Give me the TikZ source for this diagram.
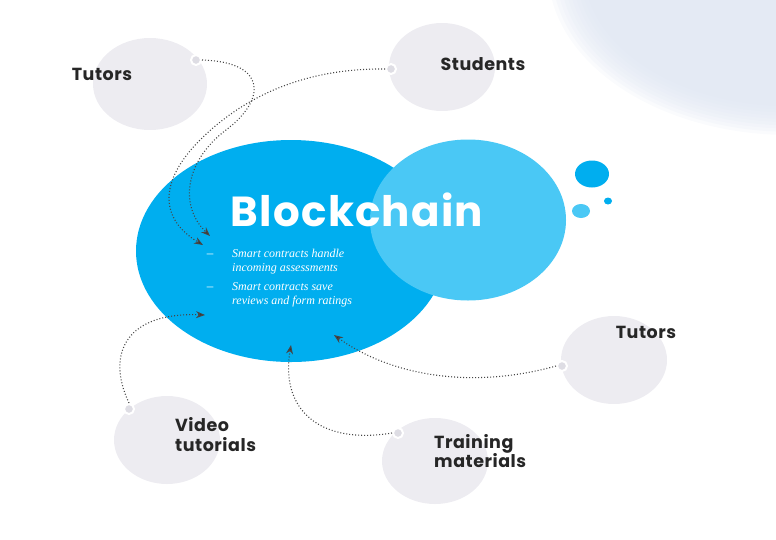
\documentclass[tikz,border=0pt]{standalone}
\usepackage{fontspec}
\setmainfont{Liberation Serif}
\newfontfamily\hdfont{Poppins}[LetterSpace=3]
\usetikzlibrary{arrows.meta,shapes.geometric}
\definecolor{bcblue}{RGB}{0,174,239}
\definecolor{bclight}{RGB}{74,200,245}
\definecolor{bubblegray}{RGB}{237,236,241}
\definecolor{portgray}{RGB}{222,221,228}
\definecolor{blobcol}{RGB}{222,229,242}
\definecolor{lineg}{RGB}{70,70,70}
\begin{document}
\begin{tikzpicture}[x=1pt,y=-1pt,
  bubble/.style={ellipse,fill=bubblegray,inner sep=0pt},
  port/.style={circle,fill=portgray,draw=white,line width=2pt,minimum size=10pt,inner sep=0pt},
  lbl/.style={font=\hdfont\bfseries\fontsize{17.5}{19.5}\selectfont,text=black!85,align=left,inner sep=0pt},
  bullet/.style={font=\itshape\fontsize{12}{14}\selectfont,text=white,align=left,inner sep=0pt,anchor=north west},
  conn/.style={draw=lineg,line width=1.1pt,dash pattern=on 1pt off 2pt,-{Stealth[length=9pt,width=7pt,fill=black!85]}}
]
\useasboundingbox (0,0) rectangle (776,539);
% background blob
\foreach \i in {0,...,9}{
  \fill[blobcol,opacity=0.16] (790,-30) ellipse ({242-4*\i} and {165-3.2*\i});
}
% bubbles
\node[bubble,minimum width=114pt,minimum height=92pt] (tutA) at (150,84) {};
\node[bubble,minimum width=106pt,minimum height=88pt] (stud) at (442,67) {};
\node[bubble,minimum width=106pt,minimum height=88pt] (tutB) at (614,360) {};
\node[bubble,minimum width=106pt,minimum height=88pt] (video) at (167,440) {};
\node[bubble,minimum width=106pt,minimum height=86pt] (train) at (435,461) {};
% blockchain circles
\node[ellipse,fill=bcblue,minimum width=310pt,minimum height=222pt,inner sep=0pt] (bc) at (291,251) {};
\node[ellipse,fill=bclight,minimum width=196pt,minimum height=161pt,inner sep=0pt] (bcl) at (468,220) {};
\node[ellipse,fill=bcblue,minimum width=34pt,minimum height=27pt,inner sep=0pt] (dotA) at (592,174) {};
\node[ellipse,fill=bclight,minimum width=18pt,minimum height=14pt,inner sep=0pt] (dotB) at (581,211) {};
\node[ellipse,fill=bcblue,minimum width=8pt,minimum height=7pt,inner sep=0pt] (dotC) at (608,201) {};
% ports
\node[port] (pA) at (196,60) {};
\node[port] (pS) at (391,69) {};
\node[port] (pB) at (562,366) {};
\node[port] (pV) at (129,409) {};
\node[port] (pT) at (398,433) {};
% labels
\node[lbl] (lA) at (102,74) {Tutors};
\node[lbl] (lS) at (483,64) {Students};
\node[lbl] (lB) at (646,332) {Tutors};
\node[lbl,anchor=west] (lV) at (175,434.5) {Video\\tutorials};
\node[lbl,anchor=west] (lT) at (434,451) {Training\\materials};
\node[font=\hdfont\bfseries\fontsize{42}{46}\selectfont,text=white,inner sep=0pt] (title) at (357,210) {Blockchain};
\node[bullet] (b1) at (232,249) {Smart contracts handle\\incoming assessments};
\node[bullet] (b2) at (232,282) {Smart contracts save\\reviews and form ratings};
\node[text=white,inner sep=0pt,font=\fontsize{13}{14}\selectfont] (d1) at (210,256) {--};
\node[text=white,inner sep=0pt,font=\fontsize{13}{14}\selectfont] (d2) at (210,289) {--};
% arrow targets
\coordinate (eA) at (210,236);
\coordinate (eS) at (203,245);
\coordinate (eV) at (205,315);
\coordinate (eT) at (291,345);
\coordinate (eB) at (334,335);
% connectors
\draw[conn] (pA.east) .. controls (268,62) and (266,100) .. (226,130) .. controls (186,160) and (178,205) .. (eA);
\draw[conn] (pS.west) .. controls (300,68) and (240,100) .. (200,140) .. controls (160,180) and (158,218) .. (eS);
\draw[conn] (pV.north) .. controls (105,352) and (128,312) .. (eV);
\draw[conn] (pT.west) .. controls (320,445) and (280,410) .. (eT);
\draw[conn] (pB.west) .. controls (470,390) and (390,375) .. (eB);
\end{tikzpicture}
\end{document}
